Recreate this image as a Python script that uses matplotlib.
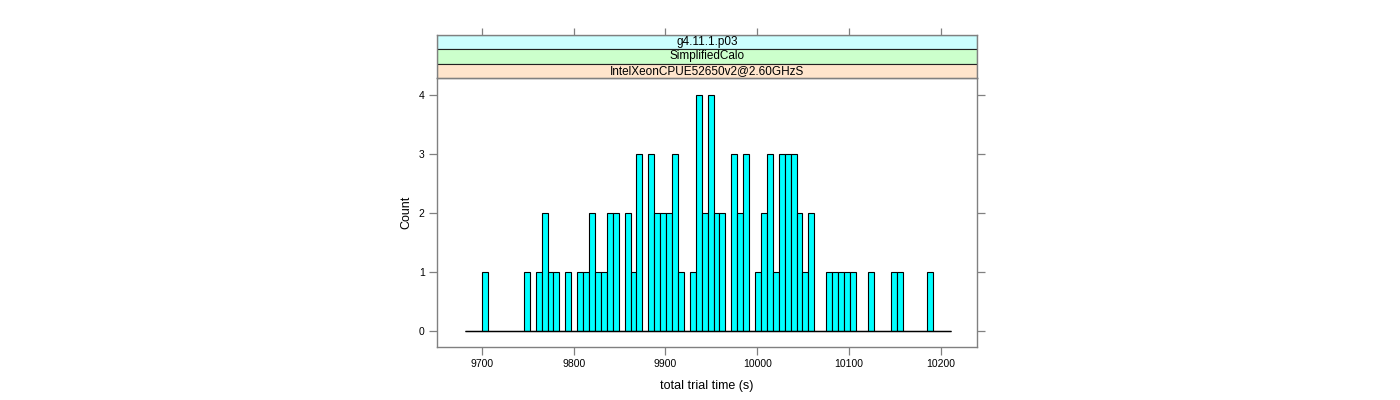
import numpy as np
import matplotlib
matplotlib.use("Agg")
import matplotlib.pyplot as plt
from matplotlib.patches import Rectangle

# histogram breaks (shared across panels) and counts per bin
break_start = 9681.0
break_end = 10210.9
n_bins = 82
counts = [0, 0, 0, 1, 0, 0, 0, 0, 0, 0,
          1, 0, 1, 2, 1, 1, 0, 1, 0, 1,
          1, 2, 1, 1, 2, 2, 0, 2, 1, 3,
          0, 3, 2, 2, 2, 3, 1, 0, 1, 4,
          2, 4, 2, 2, 0, 3, 2, 3, 0, 1,
          2, 3, 1, 3, 3, 3, 2, 1, 2, 0,
          0, 1, 1, 1, 1, 1, 0, 0, 1, 0,
          0, 0, 1, 1, 0, 0, 0, 0, 1, 0,
          0, 0]
x_ticks = [9700, 9800, 9900, 10000, 10100, 10200]
y_ticks = [0, 1, 2, 3, 4]
strip_labels = ["g4.11.1.p03", "SimplifiedCalo", "IntelXeonCPUE52650v2@2.60GHzS"]
strip_colors = ["#ccffff", "#ccffcc", "#ffe5cc"]
xlabel = "total trial time (s)"
ylabel = "Count"

plt.rcParams['font.family'] = ['Liberation Sans', 'DejaVu Sans']
W, H = 1400, 400
fig = plt.figure(figsize=(W / 100, H / 100), dpi=100)

px_l, px_r, px_t, px_b = 437.3, 977.0, 78.3, 346.7
strip_top = 34.7
frame_col = "#808080"

ax = fig.add_axes([px_l / W, 1 - px_b / H, (px_r - px_l) / W, (px_b - px_t) / H])
edges = np.linspace(break_start, break_end, n_bins + 1)
widths = np.diff(edges)
ax.bar(edges[:-1], counts, width=widths, align='edge', color="#00ffff",
       edgecolor="black", linewidth=0.8)
ax.hlines(0, edges[0], edges[-1], color="black", linewidth=1.0)
ax.set_xlim(9651.3, 10239.6)
ax.set_ylim(-0.27, 4.29)
ax.set_xticks(x_ticks)
ax.set_yticks(y_ticks)
ax.tick_params(direction='out', length=6, width=0.9, color=frame_col, labelsize=7.5,
               left=True, right=True, bottom=True, top=False,
               labelleft=True, labelright=False, pad=3)
for s in ax.spines.values():
    s.set_color(frame_col)
    s.set_linewidth(1.0)
ax.set_xlabel(xlabel, fontsize=9, labelpad=8)
ax.set_ylabel(ylabel, fontsize=9, labelpad=5)

# strips
axs = fig.add_axes([px_l / W, 1 - px_t / H, (px_r - px_l) / W, (px_t - strip_top) / H])
axs.set_xlim(ax.get_xlim())
axs.set_ylim(0, 3)
axs.set_xticks(x_ticks)
axs.set_yticks([])
axs.tick_params(axis='x', direction='out', length=5, width=0.9, color=frame_col,
                bottom=False, top=True, labelbottom=False, labeltop=False)
for i, (lab, col) in enumerate(zip(strip_labels, strip_colors)):
    yb = 2 - i
    axs.add_patch(Rectangle((0, yb / 3), 1, 1 / 3, transform=axs.transAxes,
                            facecolor=col, edgecolor="#222222", linewidth=0.8))
    axs.text(0.5, (yb + 0.5) / 3, lab, transform=axs.transAxes, ha='center',
             va='center', fontsize=8.5)
for s in axs.spines.values():
    s.set_color(frame_col)
    s.set_linewidth(1.0)

fig.savefig("out.png", dpi=100)
